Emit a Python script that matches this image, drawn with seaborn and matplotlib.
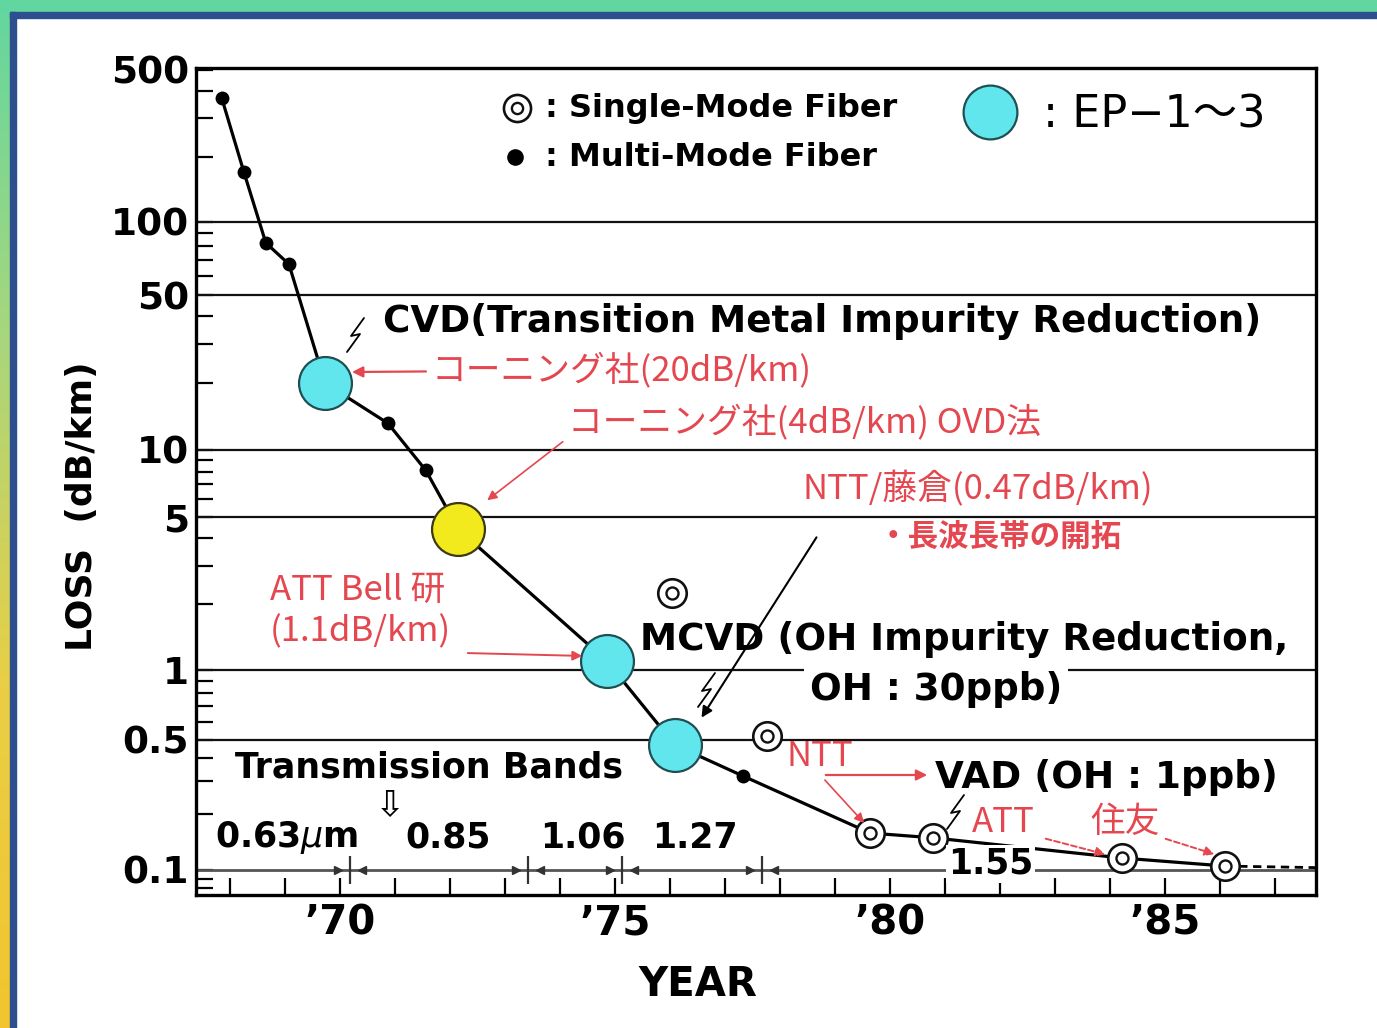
import numpy as np
import pandas as pd
import matplotlib
matplotlib.use('Agg')
import matplotlib.pyplot as plt
import matplotlib.ticker as mticker
from matplotlib.patches import Rectangle
from matplotlib.colors import LinearSegmentedColormap
import seaborn as sns

# ---------------- data ----------------
multi_years = [1967.85, 1968.25, 1968.65, 1969.07, 1970.87, 1971.56, 1977.33]
multi_loss = [370, 170, 82, 67, 13.2, 8.1, 0.32]

ep_years = [1969.73, 1974.85, 1976.09]          # EP-1~3 (cyan)
ep_loss = [20, 1.1, 0.47]

ovd_years = [1972.15]                            # Corning OVD (yellow)
ovd_loss = [4.4]

single_years = [1976.04, 1977.76, 1979.64, 1980.78, 1984.22, 1986.10]
single_loss = [2.25, 0.52, 0.158, 0.149, 0.116, 0.105]
single_on_curve = [False, False, True, True, True, True]

trend_years = [1986.10, 1987.75]                 # dashed continuation
trend_loss = [0.105, 0.103]

grid_levels = [100, 50, 10, 5, 1, 0.5, 0.1]
y_ticks = [0.1, 0.5, 1, 5, 10, 50, 100, 500]
y_labels = ['0.1', '0.5', '1', '5', '10', '50', '100', '500']
x_ticks = [1970, 1975, 1980, 1985]
x_labels = ["’70", "’75", "’80", "’85"]
year_minor = list(range(1968, 1988))
band_edges = [1970.18, 1973.42, 1975.13, 1977.67]

# ---------------- tables ----------------
pts = pd.concat([
    pd.DataFrame({'year': multi_years, 'loss': multi_loss, 'kind': 'multi', 'curve': True}),
    pd.DataFrame({'year': ep_years, 'loss': ep_loss, 'kind': 'ep', 'curve': True}),
    pd.DataFrame({'year': ovd_years, 'loss': ovd_loss, 'kind': 'ovd', 'curve': True}),
    pd.DataFrame({'year': single_years, 'loss': single_loss, 'kind': 'single', 'curve': single_on_curve}),
], ignore_index=True)
curve = pts[pts['curve']].sort_values('year').reset_index(drop=True)

# ---------------- style ----------------
sns.set_theme(style='white')
plt.rcParams['font.family'] = ['DejaVu Sans', 'Noto Sans CJK JP']
plt.rcParams['axes.unicode_minus'] = False
plt.rcParams['text.color'] = 'black'
plt.rcParams['axes.labelcolor'] = 'black'
plt.rcParams['xtick.color'] = 'black'
plt.rcParams['ytick.color'] = 'black'

RED = '#e4474f'
CYAN = '#62e6ee'
YELLOW = '#f2ea1c'

W, H = 1377, 1028
fig = plt.figure(figsize=(W / 100, H / 100), dpi=100)
fig.patch.set_facecolor('white')

# decorative slide frame
bg = fig.add_axes([0, 0, 1, 1], zorder=-10)
bg.set_xlim(0, W)
bg.set_ylim(H, 0)
bg.axis('off')
grad = np.linspace(0, 1, 256).reshape(-1, 1)
cmap = LinearSegmentedColormap.from_list('frame', ['#62d6a0', '#a9d67c', '#e9cf45', '#f2c52e'])
bg.imshow(grad, cmap=cmap, extent=[0, 10, H, 0], aspect='auto')
bg.add_patch(Rectangle((0, 0), W, 12, color='#62d6a0'))
bg.add_patch(Rectangle((10, 12), W - 10, 6, color='#2d4e8f'))
bg.add_patch(Rectangle((10, 12), 6, H - 12, color='#2d4e8f'))

L, R, T, B = 196, 1316, 68, 895
ax = fig.add_axes([L / W, 1 - B / H, (R - L) / W, (B - T) / H])
ax.set_facecolor('white')


def af(px, py):
    return ((px - L) / (R - L), (B - py) / (B - T))


# The printed chart's log axis is not perfectly uniform: a piecewise log scale
# that follows the printed decade spacing (height above the bottom spine).
_scale_logs = np.array([-3.0, -1.0, np.log10(0.5), 0.0, np.log10(5), 1.0, np.log10(50), 2.0, np.log10(500), 5.0])
_scale_pos = np.array([-347.0, 25, 155, 225, 378, 445, 600, 673, 825, 1475])


def _fwd(v):
    v = np.asarray(v, dtype=float)
    return np.interp(np.log10(np.clip(v, 1e-12, None)), _scale_logs, _scale_pos)


def _inv(p):
    return 10 ** np.interp(np.asarray(p, dtype=float), _scale_pos, _scale_logs)


ax.set_yscale('function', functions=(_fwd, _inv))
ax.set_xlim(1967.38, 1987.75)
ax.set_ylim(float(_inv(0.0)), float(_inv(B - T)))

# horizontal reference lines
for lv in grid_levels:
    ax.axhline(lv, color='#111111' if lv != 0.1 else '#555555', lw=1.6 if lv != 0.1 else 2.0, zorder=1)

# main curve
sns.lineplot(data=curve, x='year', y='loss', color='black', lw=2.3, sort=False,
             estimator=None, ax=ax, zorder=3)
ax.plot(trend_years, trend_loss, color='black', lw=2.0, ls=(0, (3, 2)), zorder=3)

# markers
mm = pts[pts['kind'] == 'multi']
sns.scatterplot(data=mm, x='year', y='loss', s=100, color='black', edgecolor='black',
                linewidth=0, ax=ax, zorder=4, legend=False)
sm = pts[pts['kind'] == 'single']
sns.scatterplot(data=sm, x='year', y='loss', s=420, color='white', edgecolor='#111111',
                linewidth=1.9, ax=ax, zorder=4, legend=False)
sns.scatterplot(data=sm, x='year', y='loss', s=75, color='white', edgecolor='#111111',
                linewidth=1.7, ax=ax, zorder=5, legend=False)
ep = pts[pts['kind'] == 'ep']
sns.scatterplot(data=ep, x='year', y='loss', s=1450, color=CYAN, edgecolor='#1f4f52',
                linewidth=1.6, ax=ax, zorder=5, legend=False)
ov = pts[pts['kind'] == 'ovd']
sns.scatterplot(data=ov, x='year', y='loss', s=1450, color=YELLOW, edgecolor='#3c3a12',
                linewidth=1.6, ax=ax, zorder=5, legend=False)

# transmission band boundaries on the 0.1 line
for b in band_edges:
    ax.plot([b], [0.1], marker='|', ms=20, mew=1.6, color='#333333', zorder=3)
    ax.plot([b - 0.22], [0.1], marker='>', ms=6, color='#333333', zorder=3)
    ax.plot([b + 0.22], [0.1], marker='<', ms=6, color='#333333', zorder=3)

# axes / ticks
ax.set_yticks(y_ticks, y_labels)
minor_vals = [m * 10.0 ** k for k in range(-2, 3) for m in range(2, 10)]
ax.yaxis.set_minor_locator(mticker.FixedLocator(minor_vals))
ax.yaxis.set_minor_formatter(mticker.NullFormatter())
ax.set_xticks(x_ticks, x_labels)
ax.set_xticks(year_minor, minor=True)
ax.tick_params(axis='both', which='both', direction='in', length=12, width=1.6,
               color='black', left=True, bottom=True, top=False, right=False)
ax.tick_params(axis='y', which='major', labelsize=27, pad=5, labelcolor='black')
ax.tick_params(axis='x', which='major', labelsize=29, pad=6, labelcolor='black')
for lab in ax.get_yticklabels() + ax.get_xticklabels():
    lab.set_fontweight('bold')
for sp in ax.spines.values():
    sp.set_color('black')
    sp.set_linewidth(2.4)

ax.set_xlabel('YEAR', fontsize=29, fontweight='bold', color='black')
ax.set_ylabel('LOSS  (dB/km)', fontsize=26, fontweight='bold', color='black')
ax.xaxis.set_label_coords(0.448, -0.085)
ax.yaxis.set_label_coords(-0.087, 0.47)
ax.grid(False)

TA = ax.transAxes
JP = ['Noto Sans CJK JP', 'DejaVu Sans']

# legend (drawn in axes coordinates)
lx, ly = af(517, 108)
ax.scatter([lx], [ly], s=380, c='white', edgecolors='#111111', linewidths=1.9, transform=TA, zorder=6, clip_on=False)
ax.scatter([lx], [ly], s=65, c='white', edgecolors='#111111', linewidths=1.7, transform=TA, zorder=7, clip_on=False)
ax.text(*af(545, 108), ': Single-Mode Fiber', transform=TA, ha='left', va='center', fontsize=23, fontweight='bold')
mx, my = af(515, 157)
ax.scatter([mx], [my], s=120, c='black', transform=TA, zorder=6, clip_on=False)
ax.text(*af(545, 157), ': Multi-Mode Fiber', transform=TA, ha='left', va='center', fontsize=23, fontweight='bold')
cx, cy = af(990, 112)
ax.scatter([cx], [cy], s=1500, c=CYAN, edgecolors='#1f4f52', linewidths=1.6, transform=TA, zorder=6, clip_on=False)
ax.text(*af(1043, 115), ': EP−1〜3', transform=TA, ha='left', va='center', fontsize=32,
        family=['DejaVu Sans', 'Noto Sans CJK JP'])

# black annotations
bold = dict(transform=TA, ha='left', va='center', fontweight='bold', zorder=6)
ax.text(*af(383, 322), 'CVD(Transition Metal Impurity Reduction)', fontsize=26.8, **bold)
ax.text(*af(640, 640), 'MCVD (OH Impurity Reduction,', fontsize=26.8, **bold)
ax.text(*af(810, 690), 'OH : 30ppb)', fontsize=26.8,
        bbox=dict(boxstyle='square,pad=0.15', fc='white', ec='none'), **bold)
ax.text(*af(935, 778), 'VAD (OH : 1ppb)', fontsize=26.8, **bold)
ax.text(*af(235, 768), 'Transmission Bands', fontsize=25, **bold)
ax.text(*af(390, 806), '⇩', transform=TA, ha='center', va='center', fontsize=26, zorder=6)
ax.text(*af(215, 838), r'0.63$\mu$m', fontsize=25, **bold)
ax.text(*af(405, 838), '0.85', fontsize=25, **bold)
ax.text(*af(540, 838), '1.06', fontsize=25, **bold)
ax.text(*af(652, 838), '1.27', fontsize=25, **bold)
ax.text(*af(948, 864), '1.55', fontsize=25,
        bbox=dict(boxstyle='square,pad=0.05', fc='white', ec='none'), **bold)


def bolt(px, py):
    xs = [px + 9, px - 4, px + 5, px - 8]
    ys = [py - 17, py + 1, py - 1, py + 17]
    p = [af(x, y) for x, y in zip(xs, ys)]
    ax.plot([q[0] for q in p], [q[1] for q in p], color='black', lw=1.3, transform=TA, zorder=6)


bolt(355, 335)
bolt(706, 690)
bolt(955, 812)

# red annotations
RS = 25
arr_red = dict(arrowstyle='-|>', color=RED, lw=1.6, mutation_scale=16, shrinkA=2, shrinkB=0)
ax.annotate('コーニング社(20dB/km)', xy=af(352, 372), xytext=af(432, 370), xycoords=TA, textcoords=TA,
            ha='left', va='center', fontsize=RS, color=RED, family=JP, arrowprops=arr_red, zorder=6)
ax.text(*af(568, 422), 'コーニング社(4dB/km) OVD法', transform=TA, ha='left', va='center',
        fontsize=RS, color=RED, family=JP, zorder=6)
ax.annotate('', xy=af(485, 502), xytext=af(565, 440), xycoords=TA, textcoords=TA,
            arrowprops=dict(arrowstyle='-|>', color=RED, lw=1.2, mutation_scale=14), zorder=6)
ax.text(*af(803, 489), 'NTT/藤倉(0.47dB/km)', transform=TA, ha='left', va='center',
        fontsize=RS, color=RED, family=JP, zorder=6)
ax.text(*af(878, 537), '・長波長帯の開拓', transform=TA, ha='left', va='center',
        fontsize=22, color=RED, family=JP, fontweight='bold', fontstyle='italic', zorder=6)
ax.annotate('', xy=af(700, 720), xytext=af(818, 535), xycoords=TA, textcoords=TA,
            arrowprops=dict(arrowstyle='-|>', color='black', lw=1.5, mutation_scale=16), zorder=6)
ax.text(*af(270, 590), 'ATT Bell 研', transform=TA, ha='left', va='center',
        fontsize=RS, color=RED, family=JP, zorder=6)
ax.text(*af(270, 632), '(1.1dB/km)', transform=TA, ha='left', va='center',
        fontsize=RS, color=RED, family=JP, zorder=6)
ax.annotate('', xy=af(585, 656), xytext=af(465, 653), xycoords=TA, textcoords=TA,
            arrowprops=dict(arrowstyle='-|>', color=RED, lw=1.4, mutation_scale=14), zorder=6)
ax.text(*af(787, 757), 'NTT', transform=TA, ha='left', va='center',
        fontsize=RS, color=RED, family=JP, zorder=6)
ax.annotate('', xy=af(930, 775), xytext=af(823, 775), xycoords=TA, textcoords=TA,
            arrowprops=dict(arrowstyle='-|>', color=RED, lw=1.6, mutation_scale=16), zorder=6)
ax.annotate('', xy=af(866, 825), xytext=af(823, 778), xycoords=TA, textcoords=TA,
            arrowprops=dict(arrowstyle='-|>', color=RED, lw=1.2, mutation_scale=14), zorder=6)
ax.text(*af(972, 822), 'ATT', transform=TA, ha='left', va='center',
        fontsize=RS, color=RED, family=JP, zorder=6)
ax.annotate('', xy=af(1108, 855), xytext=af(1043, 838), xycoords=TA, textcoords=TA,
            arrowprops=dict(arrowstyle='-|>', color=RED, lw=1.4, ls=(0, (3, 1.5)), mutation_scale=14), zorder=6)
ax.text(*af(1090, 822), '住友', transform=TA, ha='left', va='center',
        fontsize=RS, color=RED, family=JP, zorder=6)
ax.annotate('', xy=af(1217, 855), xytext=af(1163, 838), xycoords=TA, textcoords=TA,
            arrowprops=dict(arrowstyle='-|>', color=RED, lw=1.4, ls=(0, (3, 1.5)), mutation_scale=14), zorder=6)

fig.savefig('out.png', dpi=100)
